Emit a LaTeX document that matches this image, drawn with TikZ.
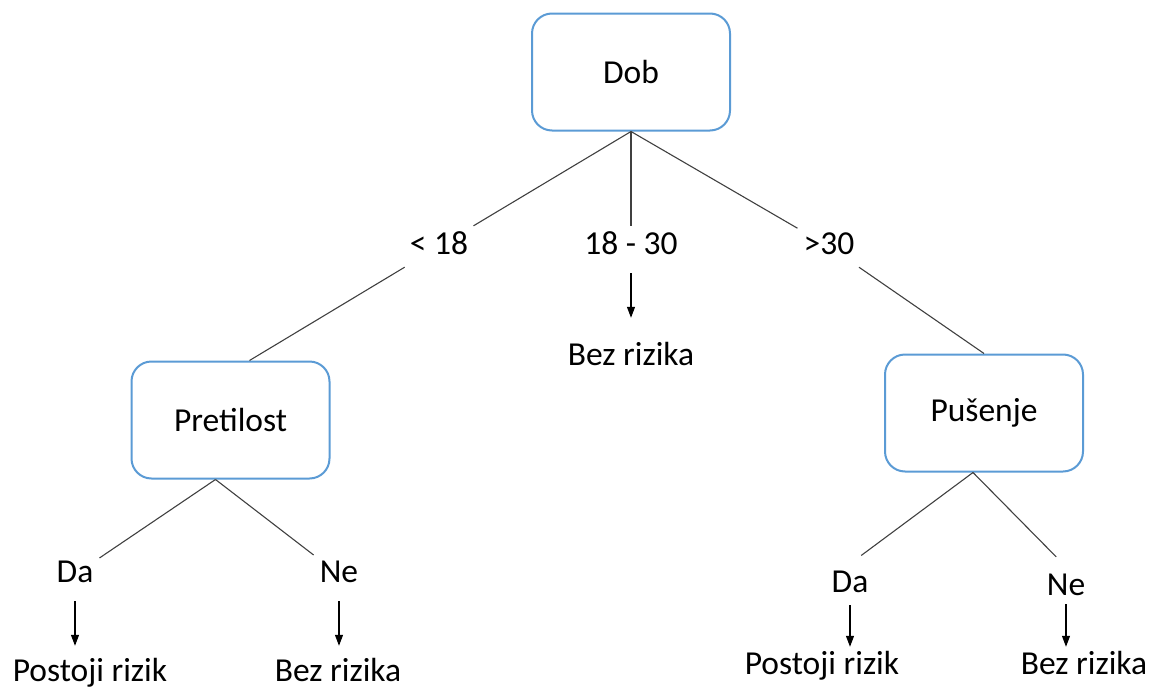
\documentclass[tikz,border=0pt]{standalone}
\usepackage{fontspec}
\setmainfont{Carlito}
\usetikzlibrary{arrows.meta}
\definecolor{boxblue}{RGB}{91,155,213}
\tikzset{
  edge/.style={line width=1.1pt, draw=black!75},
  arr/.style={line width=1.1pt, -{Triangle[length=11pt,width=8pt]}, shorten <=6pt, shorten >=11pt},
  attr/.style={draw=boxblue, line width=2pt, rounded corners=20pt, fill=white, minimum width=198pt, minimum height=117pt, font=\fontsize{33.5}{40}\selectfont},
  lbl/.style={inner sep=6pt, text height=22pt, text depth=7pt, font=\fontsize{33.5}{40}\selectfont},
  res/.style={lbl, inner sep=2pt}
}
\begin{document}
\begin{tikzpicture}[x=1pt,y=-1pt]
  \useasboundingbox (0,0) rectangle (1162,688);
  % attribute boxes
  \node[attr] (dob) at (631,72) {Dob};
  \node[attr] (pret) at (230.5,420) {Pretilost};
  \node[attr] (pus) at (984,413) {Pušenje};
  % branch labels
  \node[lbl] (lt18) at (439,246.5) {< 18};
  \node[lbl] (mid) at (631,246.5) {18 - 30};
  \node[lbl] (gt30) at (829,246.5) {>30};
  \node[lbl] (da1) at (75,574.5) {Da};
  \node[lbl] (ne1) at (339,574.5) {Ne};
  \node[lbl] (da2) at (850,584.5) {Da};
  \node[lbl] (ne2) at (1066,587.5) {Ne};
  % outcomes
  \node[res] (bez0) at (631,357.5) {Bez rizika};
  \node[res] (pr1) at (90,673.5) {Postoji rizik};
  \node[res] (bz1) at (338,673.5) {Bez rizika};
  \node[res] (pr2) at (822,666.5) {Postoji rizik};
  \node[res] (bz2) at (1084,666.5) {Bez rizika};
  % tree edges
  \draw[edge] (dob.south) -- (lt18);
  \draw[edge] (lt18) -- ([xshift=19pt]pret.north);
  \draw[edge] (dob.south) -- (mid);
  \draw[edge] (dob.south) -- (gt30);
  \draw[edge] (gt30) -- (pus.north);
  \draw[edge] ([xshift=-15pt]pret.south) -- (da1);
  \draw[edge] ([xshift=-15pt]pret.south) -- (ne1);
  \draw[edge, shorten >=14pt] ([xshift=-11pt]pus.south) -- (da2.north);
  \draw[edge, shorten >=14pt] ([xshift=-11pt]pus.south) -- (ne2.north);
  % results
  \draw[arr, shorten >=23pt] (mid.south) -- (bez0.north);
  \draw[arr] (da1.south) -- (da1.south |- pr1.north);
  \draw[arr] (ne1.south) -- (ne1.south |- bz1.north);
  \draw[arr, shorten <=0pt, shorten >=3pt] (da2.south) -- (da2.south |- pr2.north);
  \draw[arr, shorten <=-4pt, shorten >=3pt] (ne2.south) -- (ne2.south |- bz2.north);
\end{tikzpicture}
\end{document}
